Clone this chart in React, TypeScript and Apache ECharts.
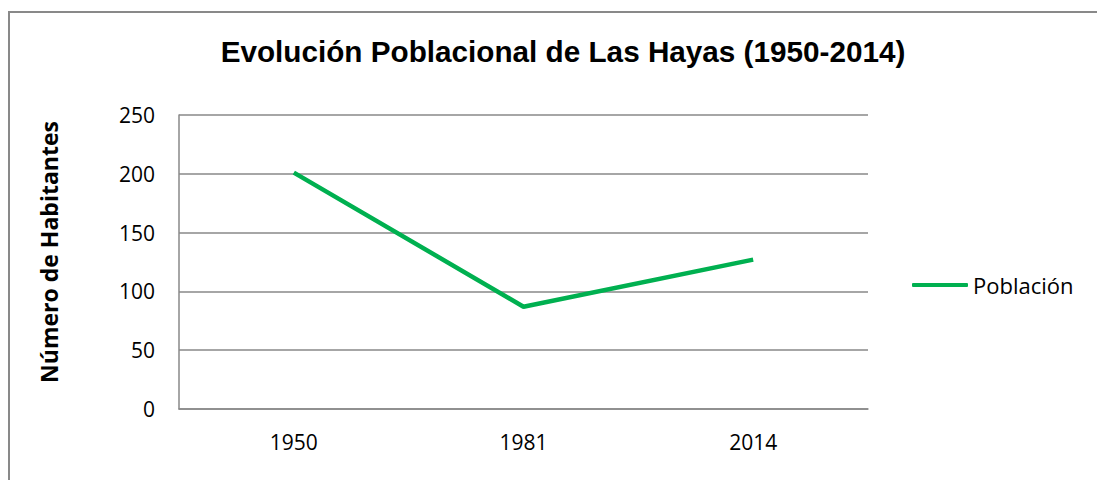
import React, { useEffect, useRef } from "react";
import * as echarts from "echarts";

const categories = ["1950", "1981", "2014"];
const poblacion = [201, 87, 127];
const seriesName = "Población";
const titleText = "Evolución Poblacional de Las Hayas (1950-2014)";
const yAxisName = "Número de Habitantes";

export default function App() {
  const ref = useRef<HTMLDivElement>(null);
  useEffect(() => {
    document.body.style.margin = "0";
    if (!ref.current) return;
    const chart = echarts.init(ref.current, null, { renderer: "svg" });
    const gray = "#898989";
    const font = "'Open Sans', sans-serif";
    chart.setOption({
      animation: false,
      backgroundColor: "#ffffff",
      title: {
        text: titleText,
        left: 558,
        top: 31,
        textAlign: "center",
        textStyle: {
          fontFamily: "'Liberation Sans', Arial, sans-serif",
          fontWeight: "bold",
          fontSize: 29.7,
          color: "#000000",
        },
      },
      graphic: [
        {
          type: "rect",
          shape: { x: 9, y: 12, width: 1300, height: 700 },
          style: { fill: "none", stroke: gray, lineWidth: 2 },
          silent: true,
        },
      ],
      legend: {
        orient: "vertical",
        left: 912,
        top: 274,
        padding: 0,
        icon: "roundRect",
        itemWidth: 56,
        itemHeight: 4,
        itemGap: 5,
        textStyle: { fontFamily: font, fontSize: 22, color: "#000000" },
        data: [seriesName],
      },
      grid: { left: 179, right: 229, top: 115, bottom: 71 },
      xAxis: {
        type: "category",
        data: categories,
        boundaryGap: true,
        axisLine: { lineStyle: { color: gray, width: 1.5 } },
        axisTick: { show: false },
        axisLabel: { fontFamily: font, fontSize: 21, color: "#000000", margin: 22 },
        splitLine: { show: false },
      },
      yAxis: {
        type: "value",
        min: 0,
        max: 250,
        interval: 50,
        name: yAxisName,
        nameLocation: "middle",
        nameGap: 119,
        nameRotate: 90,
        nameTextStyle: {
          fontFamily: font,
          fontSize: 23,
          fontWeight: "bold",
          color: "#000000",
          padding: [0, 0, 0, 20],
        },
        axisLine: { show: true, lineStyle: { color: gray, width: 1.5 } },
        axisTick: { show: false },
        axisLabel: { fontFamily: font, fontSize: 21, color: "#000000", margin: 24 },
        splitLine: { show: true, lineStyle: { color: gray, width: 1.5 } },
      },
      series: [
        {
          name: seriesName,
          type: "line",
          data: poblacion,
          symbol: "none",
          lineStyle: { color: "#00b050", width: 4.5 },
          itemStyle: { color: "#00b050" },
        },
      ],
    });
    return () => chart.dispose();
  }, []);
  return <div ref={ref} style={{ width: 1097, height: 480 }} />;
}
